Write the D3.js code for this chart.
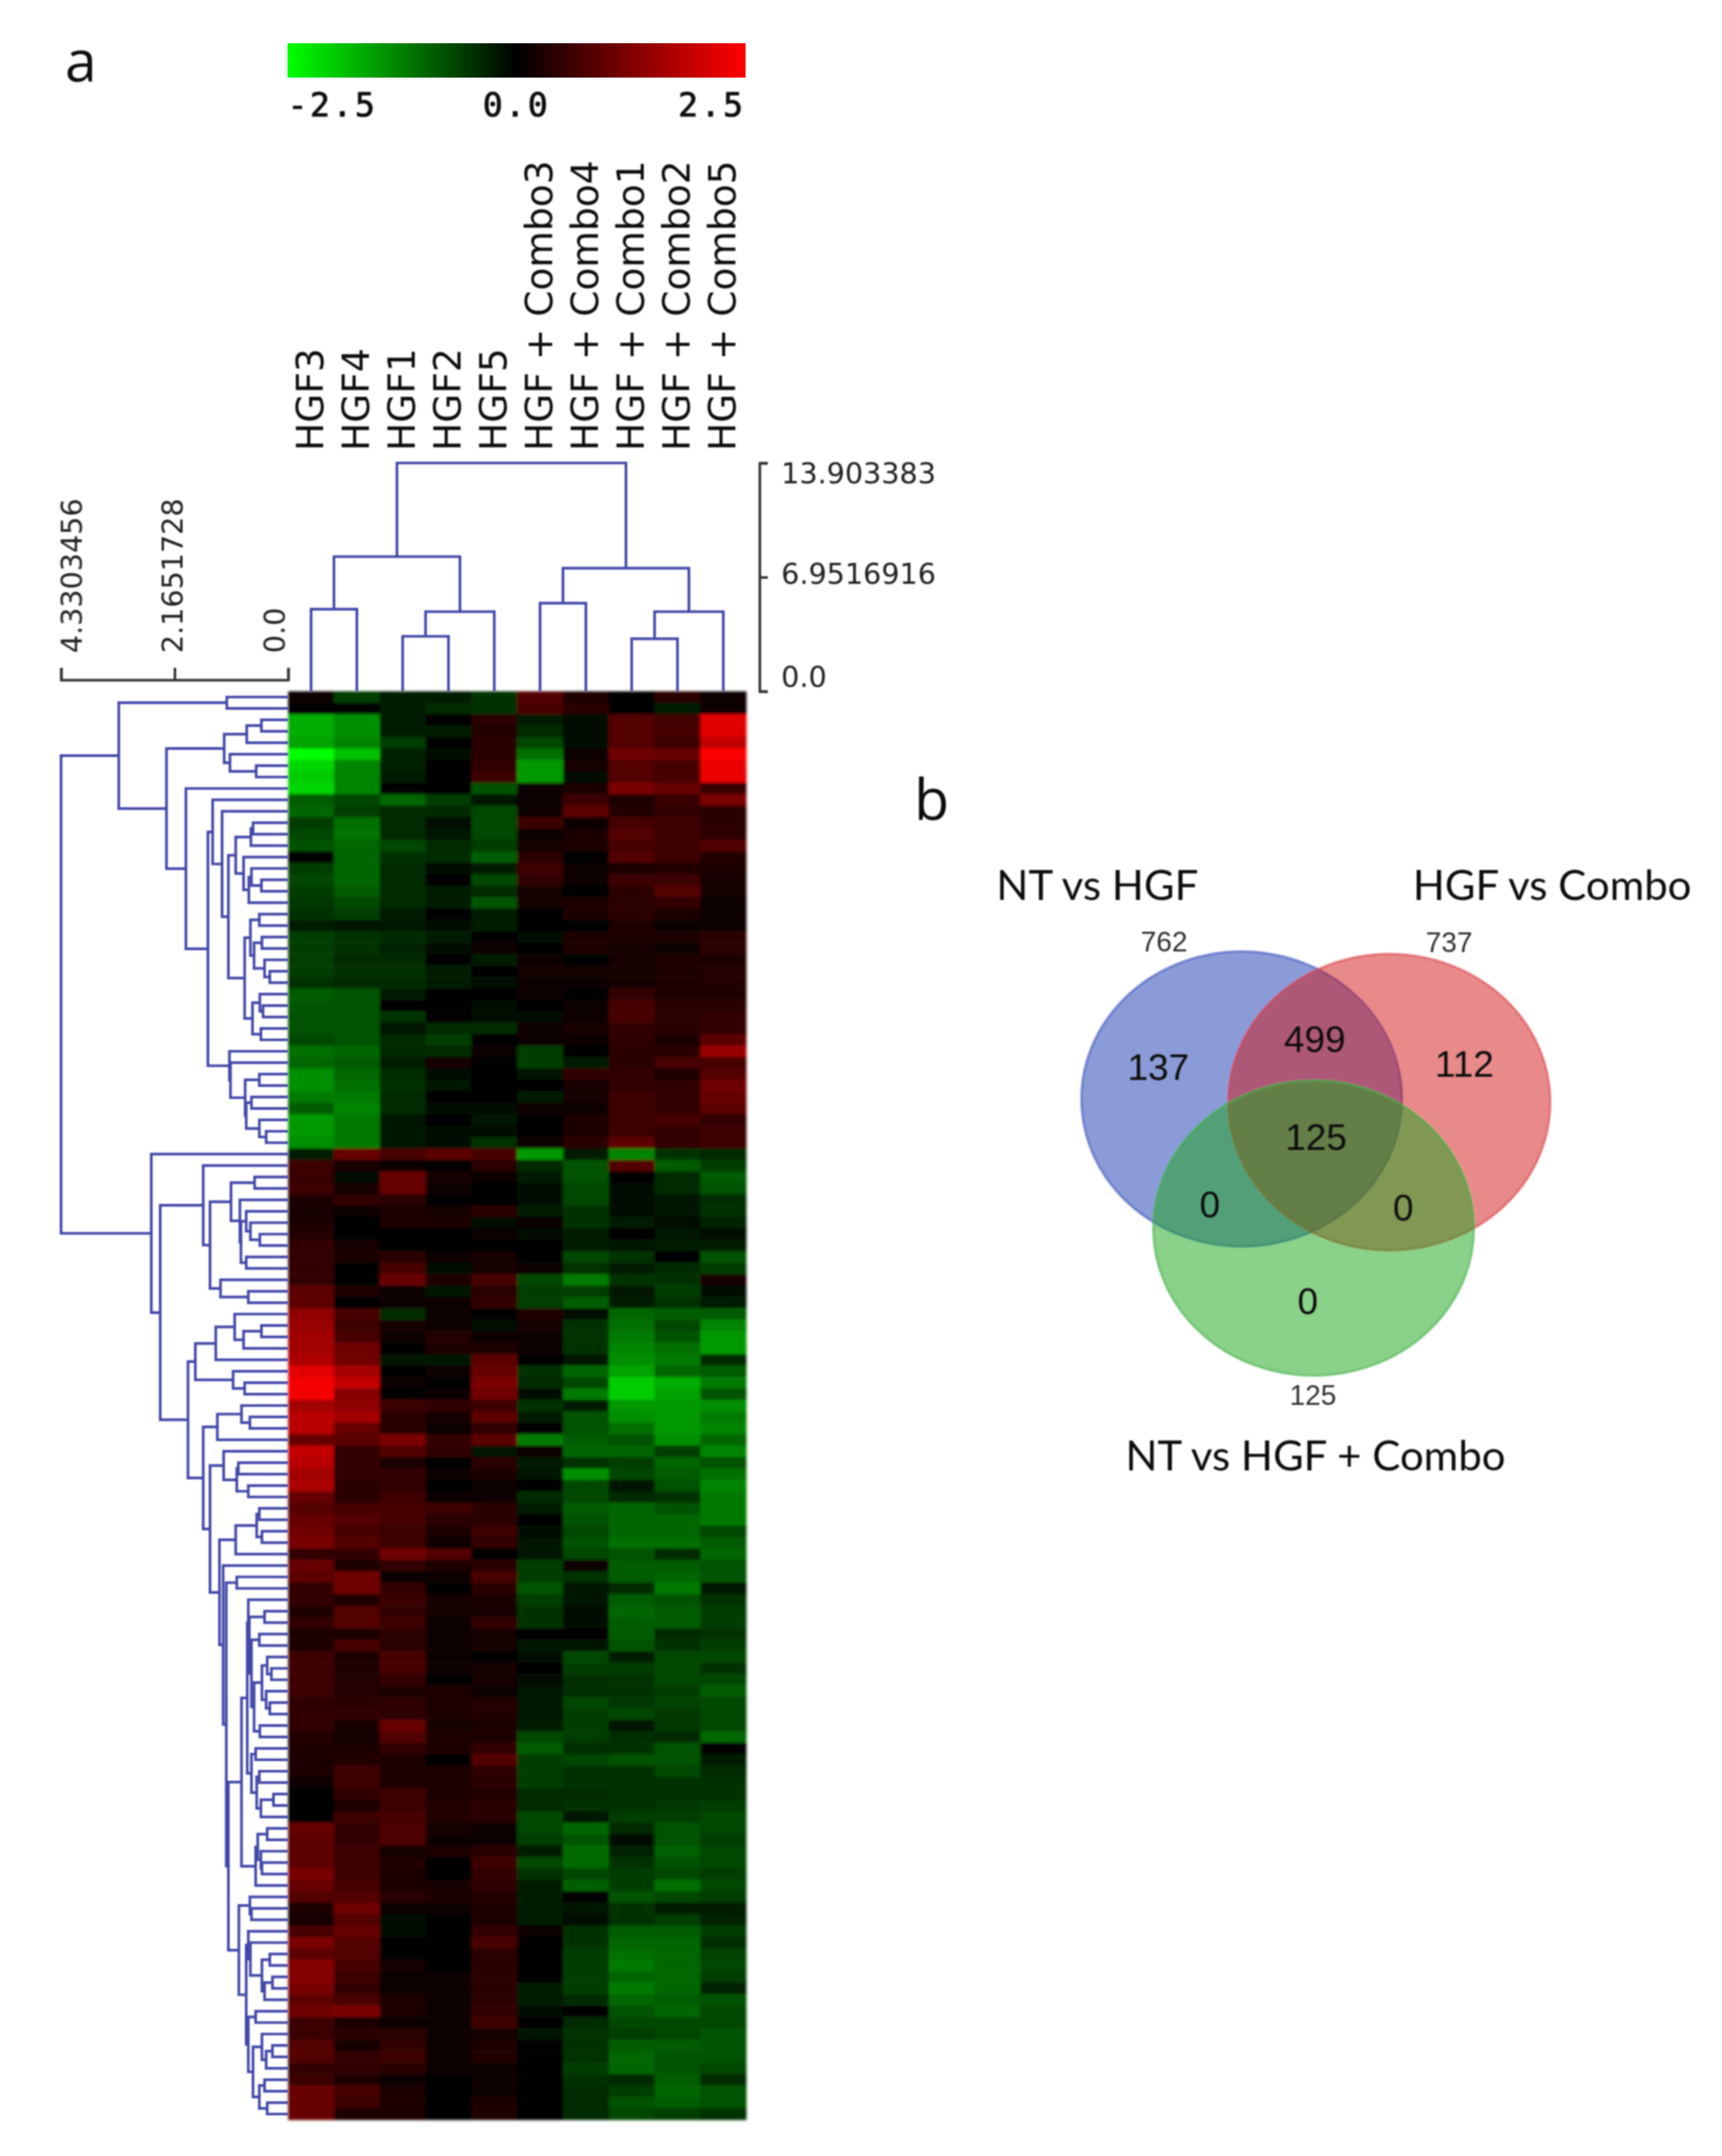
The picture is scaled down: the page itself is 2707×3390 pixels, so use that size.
<!DOCTYPE html>
<html><head><meta charset="utf-8">
<script src="https://cdn.jsdelivr.net/npm/d3@7/dist/d3.min.js"></script>
<style>html,body{margin:0;padding:0;background:#fff}svg{display:block}</style>
</head><body><svg id="c" width="2707" height="3390"></svg>
<script>
// ---- data ----
const sampleLabels = ["HGF3","HGF4","HGF1","HGF2","HGF5","HGF + Combo3","HGF + Combo4","HGF + Combo1","HGF + Combo2","HGF + Combo5"];
const legendTicks = [-2.5, 0, 2.5];
const legendLabels = ["-2.5","0.0","2.5"];

const hgf3 = [.15,.05,-1.7,-1.7,-1.6,-2.5,-2.1,-2,-2.1,-.9,-1,-.6,-.7,-.8,0,-.6,-.7,-.6,-.55,-.5,-.3,-.6,-.6,-.6,-.6,-.5,-.9,-.85,-.8,-.8,-.7,-1.1,-1,-1.4,-1.4,-1.2,-.9,-1.5,-1.5,-1.4,
 -.3,.6,.55,.6,.25,.2,.3,.35,.5,.5,.5,.5,.9,.9,1.4,1.5,1.6,1.6,1.7,2.2,2.4,2.4,1.6,1.8,1.8,1,1.9,1.8,1.6,1.7,1,.8,1,1.1,1.2,.5,1,.9,.5,.5,.3,.5,.25,.25,
 .6,.6,.6,.6,.45,.5,.5,.35,.25,.25,.25,.1,.03,.03,.03,1,.9,.9,.9,1.2,1,.8,.3,.2,.7,1.2,.9,1.3,1.3,1.2,.9,1.1,.6,.55,.8,.8,.5,.6,1,1,1];
const hgf4 = [-.6,0,-1.4,-1.4,-1.3,-1.9,-1.3,-1.3,-1.3,-.7,-.6,-1.1,-1.15,-1,-1,-1,-1,-.9,-.7,-.6,-.2,-.5,-.5,-.4,-.5,-.4,-.8,-.8,-.8,-.8,-.8,-1,-.9,-1,-1.1,-1.2,-1.3,-1.2,-1.2,-1.2,
 1,.2,-.1,.2,.5,.1,.05,.05,.2,.3,0,0,.25,.05,.7,.6,.7,1.1,1.1,1.6,1.9,1.3,1.4,1.6,1,.9,.5,.5,.5,.4,.4,.7,.8,.7,.8,.5,.3,1.1,1.1,.3,.8,.8,.3,.7,
 .3,.3,.35,.35,.4,.5,.2,.2,.3,.35,.6,.6,.5,.25,.6,.5,.5,.6,.6,.6,.7,.8,1.1,.8,1,.8,.8,.7,.6,.5,.7,1.2,.3,.4,.2,.5,.5,.3,.7,.6,.3];
const hgf1 = [-.3,-.3,-.3,-.3,-.6,-.35,-.35,-.3,0,-1,-.4,-.4,-.4,-.7,-.5,-.4,-.4,-.4,-.4,-.3,-.2,-.4,-.35,-.4,-.5,-.4,-.3,0,-.5,-.2,-.4,-.4,-.3,-.45,-.5,-.4,-.4,-.2,-.2,-.2,
 .7,.1,1,1,.4,.3,.25,.05,0,.4,.7,1,.1,.15,-.4,.2,.1,0,-.2,0,.1,0,.6,.4,.4,1.2,.8,.3,.5,.5,.6,.7,.7,.6,.6,1.1,.5,.1,.5,.6,.5,.6,.4,.4,
 .7,.7,.5,.3,.45,.45,1,.8,.5,.25,.25,.3,.6,.6,.7,.75,.75,.2,.35,.3,.25,.4,.1,-.1,-.15,0,.05,.2,.1,.15,.25,.25,.1,.4,.5,.6,.4,.1,.3,.3,.3];
const hgf2 = [-.3,-.4,0,-.25,.05,-.1,-.05,0,.05,-.6,-.4,-.15,-.2,-.4,-.4,-.15,0,-.25,-.3,0,-.15,-.3,-.1,0,-.25,-.25,.02,-.05,.05,-.4,-.6,-.4,.2,-.1,-.2,0,-.15,0,-.15,-.15,
 .9,.05,.2,.1,0,.2,.3,-.05,0,.15,-.1,.3,-.2,.1,.15,.1,.35,.3,-.2,.15,0,.1,.5,.2,.15,.5,.5,.05,.15,.05,.1,.6,.4,.3,.15,.8,.3,.15,.05,.2,.2,.15,.1,.1,
 .15,.15,.05,.3,.3,.3,.2,.25,.25,.05,.3,.3,.3,.35,.35,.2,.15,.25,0,.05,.2,.3,.1,0,-.03,0,0,.05,.1,.1,.1,.1,.1,.1,.15,.15,.15,.03,.05,.05,.05];
const hgf5 = [-.5,-.5,.4,.35,.4,.4,.5,.6,-.8,-.2,-.7,-.7,-.7,-.6,-.9,-.3,-.7,-.4,-.8,-.3,-.3,.05,.15,-.3,.03,-.1,-.05,-.1,-.1,-.4,0,.15,0,.05,0,-.05,-.1,-.2,-.1,-.5,
 .7,.4,.1,0,0,.4,-.1,.1,.05,.2,.2,.7,.4,.5,0,-.1,.1,.3,.9,1,1.2,1.1,.6,.9,.5,.9,-.2,.4,.3,.15,.15,.4,.4,.6,.5,0,.4,.7,.4,.3,.2,.5,.2,.2,
 -.02,.2,.2,.15,.35,.35,.25,.3,.5,.8,.45,.4,.35,.4,.4,.15,.1,.4,.6,.5,.45,.35,.3,.3,.5,.7,.4,.4,.4,.4,.4,.5,.6,.2,.25,.35,.15,.1,.1,.25,.25];
const combo3 = [.8,.7,-.3,-.4,-.7,-1.1,-1.5,-1.5,.1,.1,.1,.6,.15,.2,.4,.6,.5,.2,.2,0,0,-.1,.05,.15,.2,.1,.1,-.05,-.1,.1,.15,-.6,-.6,-.2,.05,-.3,.15,.05,0,.1,
 -1.5,-.4,-.3,-.1,-.1,-.3,.1,-.1,.05,0,.15,-.7,-.6,-.6,.3,.2,.1,.1,0,-.5,-.4,-.1,-.5,-.3,0,-1.2,.1,-.3,-.2,0,-.4,-.3,-.05,-.15,-.2,-.2,-.6,-.6,-.8,-.6,-.5,-.5,0,-.2,
 -.1,-.05,-.1,-.2,-.2,-.2,-.3,-.7,-.9,-.6,-.6,-.6,-.4,-.4,-.7,-.7,-.6,-.3,-.7,-.5,-.3,-.3,-.3,-.3,.1,.02,0,0,-.02,-.25,-.3,-.1,.05,-.2,0,0,0,0,0,0,0];
const combo4 = [.3,.4,-.1,-.1,-.1,.15,.2,-.15,.3,.6,.9,.1,.25,.3,0,.1,.1,0,.3,.25,0,.25,.25,0,.2,.1,.05,.1,.1,.2,.1,0,-.3,.5,.2,.2,.1,.3,.3,.4,
 -.3,-.8,-.8,-.7,-.7,-.5,-.5,-.3,-.3,-.7,-.5,-1.2,-.6,-.9,-.1,-.5,-.5,-.5,-.2,-1,-.7,-1.2,-.3,-.8,-.8,-.9,-1,-.5,-1.4,-.7,-.7,-.9,-.8,-.7,-.8,-.7,.1,-.5,-.2,-.2,-.1,-.1,-.05,-.2,
 -.7,-.6,-.45,-.45,-.7,-.6,-.6,-.6,-.45,-.7,-.5,-.5,-.4,-.5,-.2,-1,-.85,-1.05,-1.05,-.7,-.95,.02,-.2,-.15,-.5,-.5,-.6,-.6,-.6,-.6,-.4,.05,-.4,-.5,-.5,-.5,-.6,-.5,-.4,-.4,-.4];
const combo1 = [0,0,.8,.8,.8,1.1,.8,.8,1.2,.25,.35,.7,.8,.7,.8,.3,.6,.4,.4,.4,.3,.25,.2,.2,.2,.2,.5,.7,.7,.5,.45,.4,.4,.5,.5,.6,.6,.6,.6,.9,
 -1.3,.8,0,-.1,-.1,-.15,-.3,0,-.2,-.5,-.3,-.5,-.2,-.3,-1,-1.1,-1.2,-1.3,-1.4,-1.6,-2,-2,-1.5,-1.4,-1.1,-.8,-1,-.6,-.7,-.2,-.4,-1,-1,-1,-1.1,-.8,-.9,-.9,-.4,-.9,-1,-.9,-.9,-.8,
 -.3,-.6,-.5,-.5,-.55,-.7,-.2,-.45,-.5,-.8,-.5,-.5,-.5,-.5,-.6,-.4,-.1,-.35,-.5,-.6,-.6,-.8,-.5,-.5,-.9,-1,-1.1,-1.2,-1,-1.2,-1,-.8,-.7,-.6,-.9,-1,-1,-.4,-.6,-.8,-.7];
const combo2 = [.4,-.25,.65,.7,.6,1,.7,.7,1,.55,.5,.6,.6,.6,.6,.35,.6,.8,.5,.3,.15,.3,.15,.3,.3,.3,.3,.4,.4,.4,.3,.4,.7,.3,.5,.5,.5,.7,.5,.5,
 -.5,-.9,-.4,-.4,-.2,-.2,-.15,-.2,-.3,-.05,-.4,-.5,-.6,-.5,-.9,-.7,-.8,-1.1,-1.2,-1,-1.7,-1.6,-1.5,-1.5,-1.5,-1.4,-.6,-1,-.9,-.8,-.5,-.8,-1,-1,-1.1,-.4,-.9,-1,-1.2,-.8,-.9,-.9,-.4,-.5,
 -.7,-.7,-.7,-.6,-.65,-.55,-.55,-.4,-.8,-.8,-.7,-.5,-.5,-.55,-.6,-.8,-.8,-.95,-.8,-.7,-1.1,-.7,-.3,-.6,-.9,-1,-1,-1,-1,-1,-.9,-1,-.7,-.7,-.9,-.8,-.8,-.9,-1,-.9,-.6];
const combo5 = [.15,.15,2.2,2.2,1.9,2.5,2.3,2.3,.55,1.2,.4,.4,.45,.8,.35,.3,.2,.2,.1,.15,.1,.4,.4,.3,.35,.35,.3,.4,.5,.5,.9,1.5,.7,.8,1.1,1,.9,.5,.6,.6,
 -.4,-.6,-.9,-.8,-.45,-.5,-.35,-.1,-.3,-.8,-.6,.2,-.1,-.25,-.9,-1.3,-1.5,-1.5,-.4,-.9,-1.2,-.8,-1.4,-1.2,-1.3,-1,-1.3,-.8,-1.1,-1.3,-1.2,-1.2,-1.2,-.7,-.9,-1,-.8,-.8,-.2,-.5,-.6,-.6,-.5,-.6,
 -.7,-.5,-.7,-.9,-.7,-.7,-.7,-1,0,-.3,-.4,-.5,-.5,-.6,-.7,-.7,-.6,-.7,-.7,-.6,-.7,-.6,-.3,-.35,-.6,-.45,-.65,-.7,-.6,-.35,-.8,-.7,-.7,-.8,-.8,-.8,-.7,-.4,-.8,-.8,-.5];
const sampleValues = [hgf3,hgf4,hgf1,hgf2,hgf5,combo3,combo4,combo1,combo2,combo5];

// dendrograms: [mergeHeight, childA, childB], 0 = the next leaf in display order
const columnTree = [13.903383,
  [8.2,[5,0,0],[4.85,[3.35,0,0],0]],
  [7.5,[5.37,0,0],[4.85,[3.2,0,0],0]]];
const upperGenes = [3.23,[1.17,0,0],[2.32,
  [1.22,[.79,[.51,0,0],0],[1.11,0,[.61,0,0]]],
  [1.95,0,[1.53,
    [1.44,0,[1.26,0,[1.14,
      [1,[.71,[.67,0,0],0],[.85,0,[.75,[.7,0,[.51,0,0]],0]]],
      [.83,[.72,[.55,0,0],[.65,[.5,0,0],[.45,0,[.35,0,0]]]],[.68,[.54,0,[.48,0,0]],[.52,0,0]]]]]],
    [1.12,0,[1.1,0,[.82,[.55,0,0],[.8,[.7,0,0],[.55,0,[.42,0,0]]]]]]]]]];
const lowerGenesA = [1.62,0,[1.49,
  [1.09,[.64,0,0],[.92,0,[.9,[.8,0,[.72,0,[.54,0,0]]],[.8,0,0]]]],
  [1.29,0,[.76,0,0]]]];
const lowerGenesB = [1.77,
  [1.38,[1.02,0,[.85,[.51,0,0],0]],0],
  [1.05,0,[.83,0,0]]];
const lowerGenesC = [1.35,[.89,0,[.73,0,0]],0];
const lowerGenesD = [1.23,0,[.98,[.95,0,0],[.76,0,0]]];
const lowerGenesE = [1.0,[.6,[.55,0,0],[.5,0,0]],0];
const lowerGenesV = [.76,0,[.74,[.45,0,0],[.7,[.55,0,0],[.65,[.5,[.4,0,[.32,0,0]],[.42,0,[.35,0,0]]],[.54,0,0]]]]];
const lowerGenesW = [.7,[.62,0,0],[.6,[.55,0,0],[.52,[.28,0,0],0]]];
const lowerGenesY = [.62,[.58,[.4,0,0],[.52,0,[.5,0,0]]],0];
const lowerGenesZ = [.94,[.73,0,[.7,0,0]],[.8,
  [.76,0,[.72,0,[.5,[.35,0,0],[.45,[.3,0,0],0]]]],
  [.76,[.62,0,0],[.67,[.5,0,[.42,[.3,0,0],0]],[.55,[.45,0,0],[.4,0,0]]]]]];
const lowerGenes = [2.61,0,[2.44,lowerGenesA,[1.91,lowerGenesB,[1.62,lowerGenesC,[1.49,lowerGenesD,
  [1.31,lowerGenesE,[1.24,0,[1.18,[.98,0,0],[1.14,[.89,[.78,lowerGenesV,lowerGenesW],lowerGenesY],lowerGenesZ]]]]]]]]];
const rowTree = [4.3303456,upperGenes,lowerGenes];

const colAxisTicks = [0,6.9516916,13.903383];
const colAxisLabels = ["0.0","6.9516916","13.903383"];
const rowAxisTicks = [0,2.1651728,4.3303456];
const rowAxisLabels = ["0.0","2.1651728","4.3303456"];

const vennSets = [
  {name:"blue", cx:1952, cy:1728, rx:252, ry:232, fill:"#1937af", stroke:"#3f56c0"},
  {name:"red", cx:2184, cy:1733, rx:253, ry:233, fill:"#d21919", stroke:"#d8424a"},
  {name:"green", cx:2065, cy:1931, rx:252, ry:232, fill:"#19a519", stroke:"#45b04a"}];
const vennInner = [
  {t:"137",x:1821,y:1698},{t:"499",x:2067,y:1654},{t:"112",x:2302,y:1693},{t:"125",x:2069,y:1808},
  {t:"0",x:1902,y:1914},{t:"0",x:2206,y:1919},{t:"0",x:2056,y:2066}];
const vennTotals = [{t:"762",x:1830,y:1496},{t:"737",x:2278,y:1497},{t:"125",x:2064,y:2209}];
const vennTitles = [{t:"NT vs HGF",x:1725,y:1415},{t:"HGF vs Combo",x:2440,y:1415},{t:"NT vs HGF + Combo",x:2068,y:2312}];

// ---- drawing ----
const svg = d3.select("#c");
const defs = svg.append("defs");
const blur = (id,s)=>defs.append("filter").attr("id",id).attr("x","-2%").attr("y","-2%").attr("width","104%").attr("height","104%")
   .append("feGaussianBlur").attr("stdDeviation",s);
blur("soft",2.2); blur("softL",0.9);

const color = d3.scaleLinear().domain([-2.5,0,2.5]).range(["#00ff00","#000000","#ff0000"]).clamp(true);
const nRows = hgf3.length;
const x = d3.scaleBand().domain(d3.range(sampleLabels.length)).range([453,1173]);
const y = d3.scaleBand().domain(d3.range(nRows)).range([1087,3333]);

// heat map
const cells = sampleValues.flatMap((col,c)=>col.map((v,r)=>({c,r,v})));
svg.append("g").attr("filter","url(#soft)").selectAll("rect").data(cells).join("rect")
  .attr("x",d=>x(d.c)).attr("y",d=>y(d.r)).attr("width",x.bandwidth()+.5).attr("height",y.bandwidth()+.5)
  .attr("fill",d=>color(d.v));

// colour legend
const legendX = d3.scaleLinear().domain([-2.5,2.5]).range([452,1172]);
const grad = defs.append("linearGradient").attr("id","lg");
legendTicks.forEach(v=>grad.append("stop").attr("offset",(v+2.5)/5).attr("stop-color",color(v)));
svg.append("rect").attr("x",legendX(-2.5)).attr("y",68).attr("width",legendX(2.5)-legendX(-2.5)).attr("height",54).attr("fill","url(#lg)");
svg.append("g").attr("filter","url(#softL)").selectAll("text").data(legendTicks).join("text")
  .attr("x",v=>legendX(v)).attr("y",183)
  .attr("text-anchor",(v,i)=>["start","middle","end"][i])
  .attr("font-family","DejaVu Sans Mono").attr("font-size",52).attr("letter-spacing",4).attr("fill","#111")
  .attr("stroke","#111").attr("stroke-width",1.2)
  .text((v,i)=>legendLabels[i]);

// dendrograms
function merges(tree){
  let leaf=0; const out=[];
  (function rec(n){
    if(n===0) return {pos:leaf++,h:0};
    const A=rec(n[1]),B=rec(n[2]);
    out.push({h:n[0],a:A,b:B});
    return {pos:(A.pos+B.pos)/2,h:n[0]};
  })(tree);
  return out;
}
const dendroColor="#4347a8";
const rowH = d3.scaleLinear().domain([0,4.3303456]).range([453,96]);
const rowPos = d3.scaleLinear().domain([-.5,nRows-.5]).range([1087,3333]);
svg.append("g").attr("fill","none").attr("stroke",dendroColor).attr("stroke-width",4.2).attr("filter","url(#softL)")
 .selectAll("path").data(merges(rowTree)).join("path")
 .attr("d",m=>`M${rowH(m.a.h)},${rowPos(m.a.pos)}H${rowH(m.h)}V${rowPos(m.b.pos)}H${rowH(m.b.h)}`);
const colH = d3.scaleLinear().domain([0,13.903383]).range([1087,728]);
const colPos = d3.scaleLinear().domain([-.5,sampleLabels.length-.5]).range([453,1173]);
svg.append("g").attr("fill","none").attr("stroke",dendroColor).attr("stroke-width",4.2).attr("filter","url(#softL)")
 .selectAll("path").data(merges(columnTree)).join("path")
 .attr("d",m=>`M${colPos(m.a.pos)},${colH(m.a.h)}V${colH(m.h)}H${colPos(m.b.pos)}V${colH(m.b.h)}`);

// sample labels
svg.append("g").attr("filter","url(#softL)").selectAll("text").data(sampleLabels).join("text")
  .attr("transform",(d,i)=>`translate(${x(i)+x.bandwidth()/2+19},709) rotate(-90)`)
  .attr("font-family","DejaVu Sans").attr("font-size",59).attr("fill","#111").text(d=>d);

// scale brackets
const axisFont = g=>g.selectAll("text").attr("font-family","DejaVu Sans").attr("font-size",45).attr("fill","#222");
const colAxis = d3.axisRight(colH).tickValues(colAxisTicks).tickSize(13).tickPadding(21).tickFormat((d,i)=>colAxisLabels[i]);
const gc = svg.append("g").attr("transform","translate(1194,0)").attr("filter","url(#softL)").call(colAxis);
gc.selectAll("path,line").attr("stroke","#333").attr("stroke-width",4);
axisFont(gc);
gc.selectAll("text").attr("dy",(d,i)=>[-8,10,31][i]);
const rowAxis = d3.axisTop(rowH).tickValues(rowAxisTicks).tickSize(19).tickFormat((d,i)=>rowAxisLabels[i]);
const gr = svg.append("g").attr("transform","translate(0,1069)").attr("filter","url(#softL)").call(rowAxis);
gr.selectAll("path,line").attr("stroke","#333").attr("stroke-width",4);
axisFont(gr);
gr.selectAll("text").attr("text-anchor","start").attr("y",0).attr("dy",0)
  .attr("transform",(d,i)=>`translate(${[-6,12,32][i]},-42) rotate(-90)`);

// panel letters
const panel = [{t:"a",x:102,y:128},{t:"b",x:1437,y:1289}];
svg.append("g").attr("filter","url(#softL)").selectAll("text").data(panel).join("text")
  .attr("x",d=>d.x).attr("y",d=>d.y).attr("font-family","Open Sans").attr("font-size",90).attr("fill","#111").text(d=>d.t);

// Venn diagram
svg.append("g").attr("filter","url(#softL)").selectAll("ellipse").data(vennSets).join("ellipse")
  .attr("cx",d=>d.cx).attr("cy",d=>d.cy).attr("rx",d=>d.rx).attr("ry",d=>d.ry)
  .attr("fill",d=>d.fill).attr("fill-opacity",.5).attr("stroke",d=>d.stroke).attr("stroke-opacity",.55).attr("stroke-width",4);
svg.append("g").attr("filter","url(#softL)").selectAll("text").data(vennInner).join("text")
  .attr("x",d=>d.x).attr("y",d=>d.y).attr("text-anchor","middle").attr("font-family","Liberation Sans").attr("font-size",58).attr("fill","#111").text(d=>d.t);
svg.append("g").attr("filter","url(#softL)").selectAll("text").data(vennTotals).join("text")
  .attr("x",d=>d.x).attr("y",d=>d.y).attr("text-anchor","middle").attr("font-family","Liberation Sans").attr("font-size",44).attr("fill","#333").text(d=>d.t);
svg.append("g").attr("filter","url(#softL)").selectAll("text").data(vennTitles).join("text")
  .attr("x",d=>d.x).attr("y",d=>d.y).attr("text-anchor","middle").attr("font-family","Lato").attr("font-size",66).attr("fill","#111").text(d=>d.t);
</script></body></html>
